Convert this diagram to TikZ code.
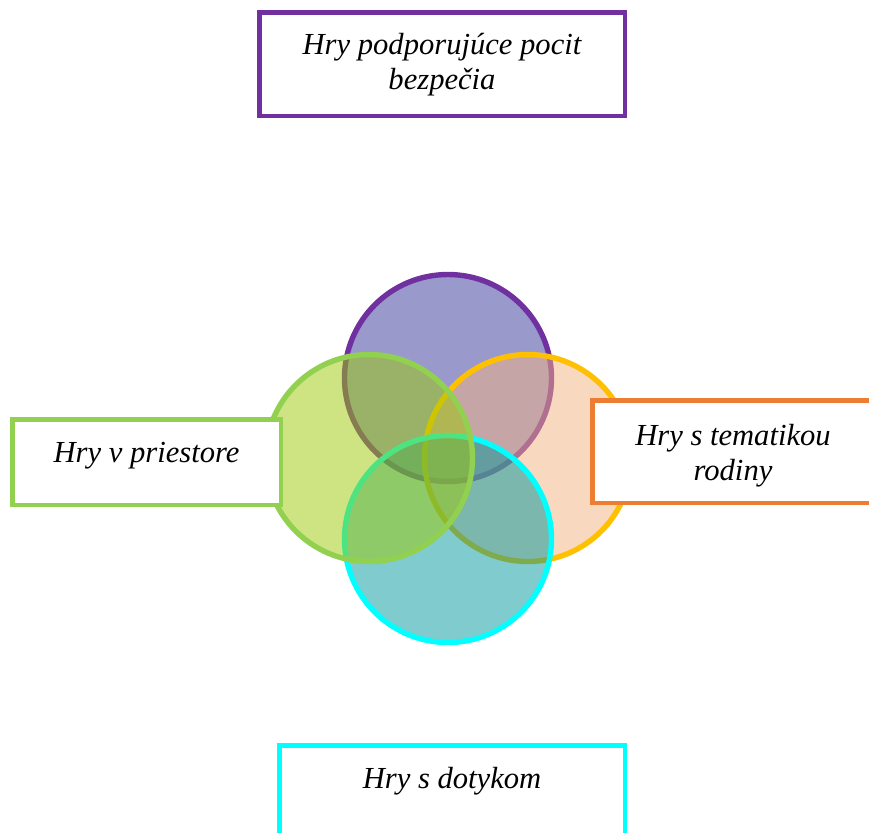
\documentclass[tikz,border=0pt]{standalone}
\usepackage{fontspec}
\setmainfont{Liberation Serif}
\usepackage{xcolor}
\usetikzlibrary{positioning, shapes}

\definecolor{safePurple}{HTML}{7030A0}
\definecolor{spaceGreen}{HTML}{92D050}
\definecolor{familyGold}{HTML}{FFC000}
\definecolor{familyOrange}{HTML}{ED7D31}
\definecolor{touchCyan}{HTML}{00FFFF}
\definecolor{safeFill}{HTML}{333399}
\definecolor{spaceFill}{HTML}{9DC905}
\definecolor{familyFill}{HTML}{F3B181}
\definecolor{touchFill}{HTML}{01979B}

\begin{document}
\begin{tikzpicture}[
    x=0.5pt, y=-0.5pt,
    ring/.style={
        circle, line width=2.7pt,
        minimum size=103.5pt, inner sep=0pt,
        fill opacity=0.5,
    },
    tag/.style={
        rectangle, fill=white, line width=2.25pt,
        inner sep=0pt, align=center,
        font=\fontsize{15.3}{17.5}\selectfont\itshape,
        text height=11pt, text depth=#1,
    },
    tag/.default=3.5pt,
    twoline/.style={text height=28.5pt},
]

\useasboundingbox (0,0) rectangle (869,832);
\clip (0,0) rectangle (869,832);

% CIRCLES
\node[ring, draw=safePurple, fill=safeFill] (cSafe) at (448,378) {};
\node[ring, draw=familyGold, fill=familyFill] (cFamily) at (528,458) {};
\node[ring, draw=touchCyan, fill=touchFill] (cTouch) at (448,539) {};
\node[ring, draw=spaceGreen, fill=spaceFill] (cSpace) at (369,458) {};

% LABEL BOXES
\node[tag=3.5pt, twoline, draw=safePurple, minimum width=182.75pt, minimum height=51.75pt]
    (safe) at (442,64) {Hry podporujúce pocit\\bezpečia};
\node[tag=10.5pt, draw=spaceGreen, minimum width=134.25pt, minimum height=42.75pt]
    (space) at (146.5,462) {Hry v priestore};
\node[tag=-1pt, twoline, draw=familyOrange, minimum width=140.75pt, minimum height=51.25pt]
    (family) at (733,451.5) {Hry s tematikou\\rodiny};
\node[tag=16.5pt, draw=touchCyan, minimum width=172.75pt, minimum height=48.75pt]
    (touch) at (452,794) {Hry s dotykom};

\end{tikzpicture}
\end{document}
